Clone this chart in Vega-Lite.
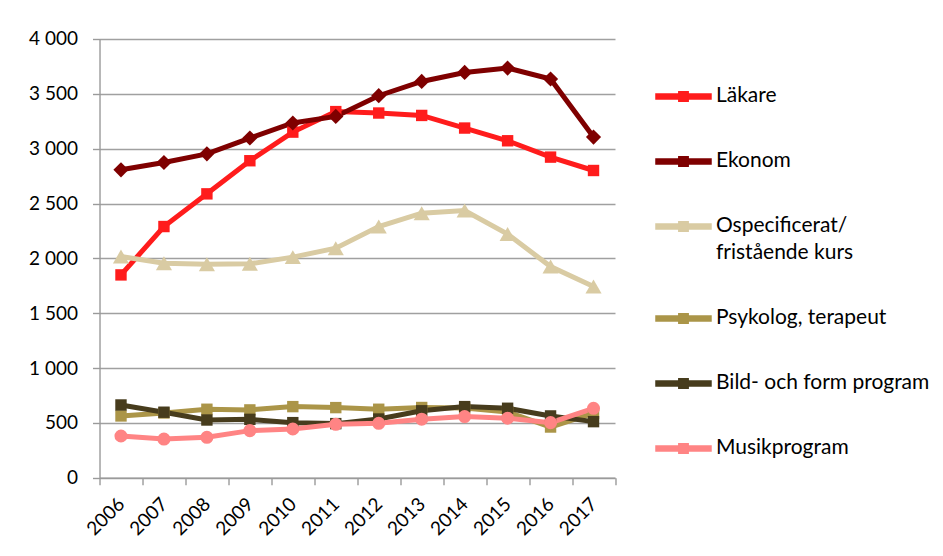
{
  "$schema": "https://vega.github.io/schema/vega-lite/v6.json",
  "autosize": {"type": "pad"},
  "width": 515.5,
  "height": 438.7,
  "padding": {"left": 28.5, "top": 30, "right": 5, "bottom": 5},
  "background": "white",
  "config": {
    "view": {"stroke": null},
    "font": "Lato",
    "style": {"guide-label": {"lineHeight": 27}},
    "axis": {
      "labelFont": "Lato",
      "labelFontSize": 19,
      "labelColor": "#000000",
      "domainColor": "#9a9a9a",
      "domainWidth": 1.4,
      "tickColor": "#9a9a9a",
      "tickWidth": 1.4,
      "tickSize": 7,
      "gridColor": "#a0a0a0",
      "gridWidth": 1.4,
      "title": null
    },
    "legend": {
      "labelFont": "Lato",
      "labelFontSize": 21,
      "labelColor": "#000000"
    }
  },
  "data": {
    "values": [
      {"year": "2006", "series": "Läkare", "value": 1849},
      {"year": "2007", "series": "Läkare", "value": 2290},
      {"year": "2008", "series": "Läkare", "value": 2588},
      {"year": "2009", "series": "Läkare", "value": 2890},
      {"year": "2010", "series": "Läkare", "value": 3151},
      {"year": "2011", "series": "Läkare", "value": 3338},
      {"year": "2012", "series": "Läkare", "value": 3325},
      {"year": "2013", "series": "Läkare", "value": 3303},
      {"year": "2014", "series": "Läkare", "value": 3188},
      {"year": "2015", "series": "Läkare", "value": 3072},
      {"year": "2016", "series": "Läkare", "value": 2923},
      {"year": "2017", "series": "Läkare", "value": 2801},
      {"year": "2006", "series": "Ekonom", "value": 2807},
      {"year": "2007", "series": "Ekonom", "value": 2874},
      {"year": "2008", "series": "Ekonom", "value": 2953},
      {"year": "2009", "series": "Ekonom", "value": 3097},
      {"year": "2010", "series": "Ekonom", "value": 3234},
      {"year": "2011", "series": "Ekonom", "value": 3294},
      {"year": "2012", "series": "Ekonom", "value": 3483},
      {"year": "2013", "series": "Ekonom", "value": 3613},
      {"year": "2014", "series": "Ekonom", "value": 3695},
      {"year": "2015", "series": "Ekonom", "value": 3735},
      {"year": "2016", "series": "Ekonom", "value": 3635},
      {"year": "2017", "series": "Ekonom", "value": 3106},
      {"year": "2006", "series": "Ospecificerat/ fristående kurs", "value": 2016},
      {"year": "2007", "series": "Ospecificerat/ fristående kurs", "value": 1956},
      {"year": "2008", "series": "Ospecificerat/ fristående kurs", "value": 1947},
      {"year": "2009", "series": "Ospecificerat/ fristående kurs", "value": 1950},
      {"year": "2010", "series": "Ospecificerat/ fristående kurs", "value": 2011},
      {"year": "2011", "series": "Ospecificerat/ fristående kurs", "value": 2093},
      {"year": "2012", "series": "Ospecificerat/ fristående kurs", "value": 2290},
      {"year": "2013", "series": "Ospecificerat/ fristående kurs", "value": 2412},
      {"year": "2014", "series": "Ospecificerat/ fristående kurs", "value": 2436},
      {"year": "2015", "series": "Ospecificerat/ fristående kurs", "value": 2221},
      {"year": "2016", "series": "Ospecificerat/ fristående kurs", "value": 1925},
      {"year": "2017", "series": "Ospecificerat/ fristående kurs", "value": 1743},
      {"year": "2006", "series": "Psykolog, terapeut", "value": 563},
      {"year": "2007", "series": "Psykolog, terapeut", "value": 590},
      {"year": "2008", "series": "Psykolog, terapeut", "value": 624},
      {"year": "2009", "series": "Psykolog, terapeut", "value": 618},
      {"year": "2010", "series": "Psykolog, terapeut", "value": 648},
      {"year": "2011", "series": "Psykolog, terapeut", "value": 639},
      {"year": "2012", "series": "Psykolog, terapeut", "value": 624},
      {"year": "2013", "series": "Psykolog, terapeut", "value": 640},
      {"year": "2014", "series": "Psykolog, terapeut", "value": 635},
      {"year": "2015", "series": "Psykolog, terapeut", "value": 600},
      {"year": "2016", "series": "Psykolog, terapeut", "value": 462},
      {"year": "2017", "series": "Psykolog, terapeut", "value": 588},
      {"year": "2006", "series": "Bild- och form program", "value": 663},
      {"year": "2007", "series": "Bild- och form program", "value": 597},
      {"year": "2008", "series": "Bild- och form program", "value": 526},
      {"year": "2009", "series": "Bild- och form program", "value": 532},
      {"year": "2010", "series": "Bild- och form program", "value": 502},
      {"year": "2011", "series": "Bild- och form program", "value": 493},
      {"year": "2012", "series": "Bild- och form program", "value": 535},
      {"year": "2013", "series": "Bild- och form program", "value": 610},
      {"year": "2014", "series": "Bild- och form program", "value": 648},
      {"year": "2015", "series": "Bild- och form program", "value": 633},
      {"year": "2016", "series": "Bild- och form program", "value": 563},
      {"year": "2017", "series": "Bild- och form program", "value": 511},
      {"year": "2006", "series": "Musikprogram", "value": 380},
      {"year": "2007", "series": "Musikprogram", "value": 352},
      {"year": "2008", "series": "Musikprogram", "value": 368},
      {"year": "2009", "series": "Musikprogram", "value": 429},
      {"year": "2010", "series": "Musikprogram", "value": 444},
      {"year": "2011", "series": "Musikprogram", "value": 487},
      {"year": "2012", "series": "Musikprogram", "value": 496},
      {"year": "2013", "series": "Musikprogram", "value": 533},
      {"year": "2014", "series": "Musikprogram", "value": 557},
      {"year": "2015", "series": "Musikprogram", "value": 542},
      {"year": "2016", "series": "Musikprogram", "value": 502},
      {"year": "2017", "series": "Musikprogram", "value": 633}
    ]
  },
  "encoding": {
    "x": {
      "field": "year",
      "type": "ordinal",
      "scale": {"type": "band", "paddingInner": 0, "paddingOuter": 0},
      "axis": {
        "labelAngle": -45,
        "labelAlign": "right",
        "labelBaseline": "middle",
        "labelPadding": 16,
        "tickBand": "extent",
        "grid": false
      }
    },
    "y": {
      "field": "value",
      "type": "quantitative",
      "scale": {"domain": [0, 4000], "nice": false},
      "axis": {
        "values": [0, 500, 1000, 1500, 2000, 2500, 3000, 3500, 4000],
        "labelExpr": "replace(format(datum.value, ','), ',', ' ')",
        "labelPadding": 15,
        "grid": true
      }
    },
    "color": {
      "field": "series",
      "type": "nominal",
      "sort": null,
      "scale": {
        "domain": ["Läkare", "Ekonom", "Ospecificerat/ fristående kurs", "Psykolog, terapeut", "Bild- och form program", "Musikprogram"],
        "range": ["#ff1c1c", "#7f0000", "#d9cba3", "#ab9548", "#473c1d", "#ff8484"]
      },
      "legend": {
        "title": null,
        "orient": "none",
        "legendX": 555.5,
        "legendY": 29,
        "symbolType": "M-1,-0.09H1V0.09H-1Z M-0.17,-0.17H0.17V0.17H-0.17Z",
        "symbolSize": 3025,
        "labelOffset": 4,
        "rowPadding": 26,
        "labelLimit": 320,
        "labelExpr": "datum.label == 'Ospecificerat/ fristående kurs' ? ['Ospecificerat/', 'fristående kurs'] : datum.label"
      }
    }
  },
  "layer": [
    {
      "mark": {"type": "line", "strokeWidth": 5}
    },
    {
      "transform": [{"filter": {"field": "series", "oneOf": ["Läkare", "Psykolog, terapeut", "Bild- och form program"]}}],
      "mark": {"type": "point", "filled": true, "opacity": 1, "shape": "square", "size": 130}
    },
    {
      "transform": [{"filter": {"field": "series", "equal": "Ekonom"}}],
      "mark": {"type": "point", "filled": true, "opacity": 1, "shape": "diamond", "size": 230}
    },
    {
      "transform": [{"filter": {"field": "series", "equal": "Ospecificerat/ fristående kurs"}}],
      "mark": {"type": "point", "filled": true, "opacity": 1, "shape": "triangle-up", "size": 260}
    },
    {
      "transform": [{"filter": {"field": "series", "equal": "Musikprogram"}}],
      "mark": {"type": "point", "filled": true, "opacity": 1, "shape": "circle", "size": 170}
    }
  ]
}
